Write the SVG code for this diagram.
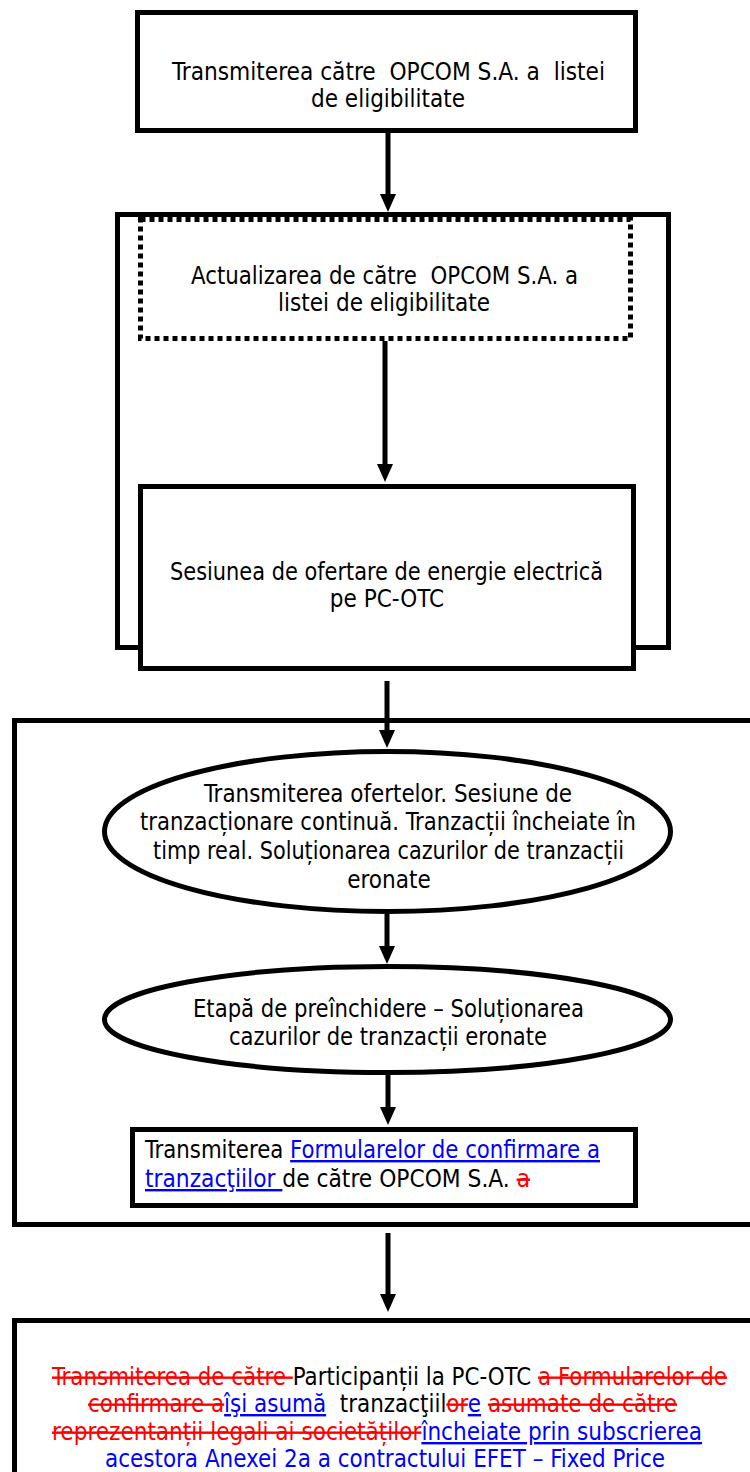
<svg xmlns="http://www.w3.org/2000/svg" width="750" height="1472" viewBox="0 0 750 1472" xml:space="preserve">
<defs>
<style>
.box{fill:#fff;stroke:#000;stroke-width:5}
.dot{fill:#fff;stroke:#000;stroke-width:5;stroke-dasharray:5 4}
.conn{stroke:#000;stroke-width:5;fill:none;marker-end:url(#ah)}
text{font-family:"DejaVu Sans Condensed","DejaVu Sans",sans-serif;font-size:24px;fill:#000;white-space:pre}
.c{text-anchor:middle}
.del{fill:#ff0000;text-decoration:line-through}
.ins{fill:#0000ff;text-decoration:underline}
.blue{fill:#0000ff}
</style>
<marker id="ah" markerWidth="18" markerHeight="16" refX="8" refY="8" orient="auto" markerUnits="userSpaceOnUse">
<path d="M0,0 L18,8 L0,16 Z" fill="#000"/>
</marker>
</defs>
<g id="n1">
<rect class="box" x="137.5" y="12.5" width="498" height="118"/>
<text class="c" x="388.5" y="80" textLength="433" lengthAdjust="spacingAndGlyphs">Transmiterea către  OPCOM S.A. a  listei</text>
<text class="c" x="388" y="107">de eligibilitate</text>
</g>
<g id="grp-outer">
<rect class="box" x="117.5" y="214.5" width="551" height="433"/>
</g>
<g id="n2">
<rect class="dot" x="140.5" y="219.5" width="490" height="119"/>
<text class="c" x="384.5" y="284" textLength="387" lengthAdjust="spacingAndGlyphs">Actualizarea de către  OPCOM S.A. a</text>
<text class="c" x="384" y="311">listei de eligibilitate</text>
</g>
<g id="n3">
<rect class="box" x="140.5" y="486.5" width="493" height="182"/>
<text class="c" x="386.5" y="580" textLength="433" lengthAdjust="spacingAndGlyphs">Sesiunea de ofertare de energie electrică</text>
<text class="c" x="387" y="607">pe PC-OTC</text>
</g>
<g id="grp-trading">
<rect class="box" x="14.5" y="720.5" width="760" height="504"/>
</g>
<g id="n4">
<ellipse class="box" cx="387.5" cy="831.5" rx="283" ry="80"/>
<text class="c" x="388" y="802" textLength="368" lengthAdjust="spacingAndGlyphs">Transmiterea ofertelor. Sesiune de</text>
<text class="c" x="388" y="830" textLength="496" lengthAdjust="spacingAndGlyphs">tranzacționare continuă. Tranzacții încheiate în</text>
<text class="c" x="388.5" y="859" textLength="471" lengthAdjust="spacingAndGlyphs">timp real. Soluționarea cazurilor de tranzacții</text>
<text class="c" x="389" y="888">eronate</text>
</g>
<g id="n5">
<ellipse class="box" cx="387.5" cy="1019.5" rx="283" ry="53"/>
<text class="c" x="388.5" y="1017" textLength="391" lengthAdjust="spacingAndGlyphs">Etapă de preînchidere – Soluționarea</text>
<text class="c" x="388" y="1045" textLength="318" lengthAdjust="spacingAndGlyphs">cazurilor de tranzacții eronate</text>
</g>
<g id="n6">
<rect class="box" x="132.5" y="1129.5" width="503" height="76"/>
<text x="145" y="1158" textLength="455" lengthAdjust="spacingAndGlyphs">Transmiterea <tspan class="ins">Formularelor de confirmare a</tspan></text>
<text x="145" y="1187" textLength="385" lengthAdjust="spacingAndGlyphs"><tspan class="ins">tranzacţiilor </tspan>de către OPCOM S.A. <tspan class="del">a</tspan></text>
</g>
<g id="n7">
<rect class="box" x="14.5" y="1320.5" width="760" height="200"/>
<text class="c" x="389.5" y="1385" textLength="675" lengthAdjust="spacingAndGlyphs"><tspan class="del">Transmiterea de către </tspan>Participanții la PC-OTC <tspan class="del">a Formularelor de</tspan></text>
<text class="c" x="382.5" y="1412" textLength="589" lengthAdjust="spacingAndGlyphs"><tspan class="del">confirmare a</tspan><tspan class="ins">îşi asumă</tspan>  tranzacţiil<tspan class="del">or</tspan><tspan class="ins">e</tspan> <tspan class="del">asumate de către</tspan></text>
<text class="c" x="377" y="1440" textLength="650" lengthAdjust="spacingAndGlyphs"><tspan class="del">reprezentanții legali ai societăților</tspan><tspan class="ins">încheiate prin subscrierea</tspan></text>
<text class="c blue" x="385" y="1467" textLength="560" lengthAdjust="spacingAndGlyphs">acestora Anexei 2a a contractului EFET – Fixed Price</text>
</g>
<g id="connectors">
<line class="conn" x1="388" y1="133" x2="388" y2="202"/>
<line class="conn" x1="385" y1="341" x2="385" y2="472"/>
<line class="conn" x1="387" y1="681" x2="387" y2="738"/>
<line class="conn" x1="387" y1="914" x2="387" y2="954"/>
<line class="conn" x1="388" y1="1075" x2="388" y2="1115"/>
<line class="conn" x1="388" y1="1233" x2="388" y2="1302"/>
</g>
</svg>
